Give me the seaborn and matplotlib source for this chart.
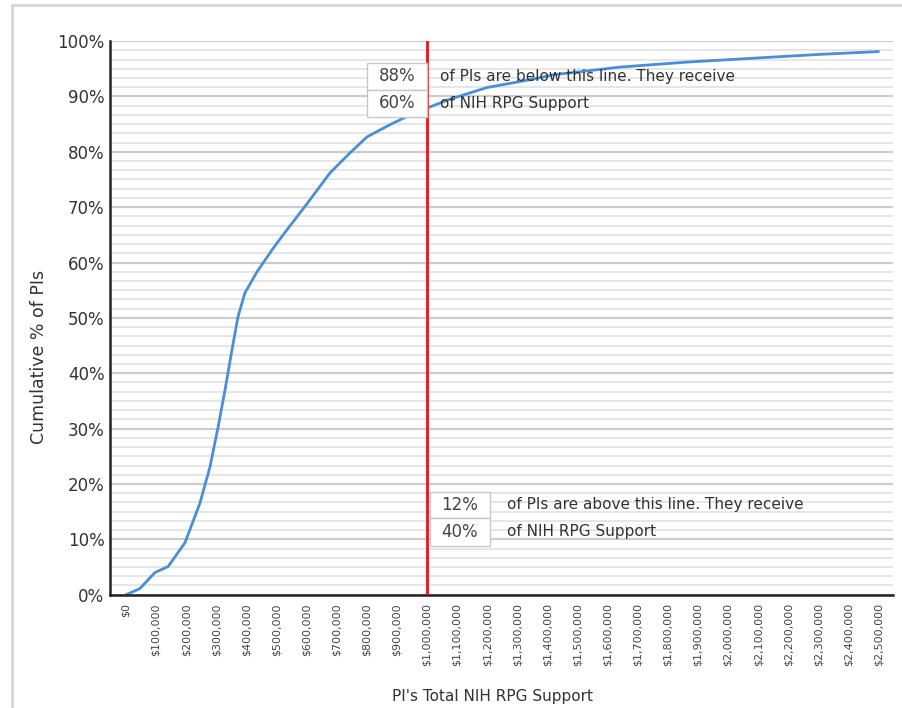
import numpy as np
import pandas as pd
import matplotlib
matplotlib.use("Agg")
import matplotlib.pyplot as plt
import matplotlib.ticker as mticker
from matplotlib.patches import Rectangle
import seaborn as sns

# support amount (dollars) and cumulative percent of PIs
support = [0, 46000, 96000, 140000, 196000, 246000, 279000, 306000, 329000,
           352000, 372000, 395000, 435000, 488000, 522000, 601000, 678000,
           744000, 801000, 877000, 934000, 1000000, 1076000, 1199000, 1350000,
           1419000, 1641000, 1864000, 2083000, 2306000, 2500000]
cum_pct = [0, 1.1, 4.0, 5.1, 9.4, 16.6, 23.1, 30.3, 37.0, 44.2, 50.2, 54.5,
           58.3, 62.5, 65.0, 70.6, 76.2, 79.8, 82.7, 84.9, 86.4, 87.9, 89.5,
           91.6, 93.1, 93.9, 95.3, 96.2, 96.9, 97.6, 98.1]

cutoff = 1000000
below_pct = ["88%", "60%"]
below_text = ["of PIs are below this line. They receive", "of NIH RPG Support"]
above_pct = ["12%", "40%"]
above_text = ["of PIs are above this line. They receive", "of NIH RPG Support"]

df = pd.DataFrame({"support": support, "pct": cum_pct})

sns.set_style("white")
plt.rcParams["font.family"] = ["DejaVu Sans"]

fig = plt.figure(figsize=(9.02, 7.08), dpi=100)
ax = fig.add_axes([0.122, 0.160, 0.868, 0.782])

# faint frame around the figure
fig.patches.append(Rectangle((12 / 902, -0.1), 1.2, 1.1 - 5 / 708,
                             transform=fig.transFigure, fill=False,
                             edgecolor="#d6d6d6", linewidth=2))

sns.lineplot(data=df, x="support", y="pct", ax=ax, color="#4a8fd6", linewidth=2)

ax.axvline(cutoff, ymin=0, ymax=1, color="#e8141c", linewidth=2, zorder=4)

ax.set_xlim(-53000, 2548000)
ax.set_ylim(0, 100)

ax.xaxis.set_major_locator(mticker.MultipleLocator(100000))
ax.xaxis.set_major_formatter(mticker.FuncFormatter(lambda v, p: "${:,.0f}".format(v)))
ax.yaxis.set_major_locator(mticker.MultipleLocator(10))
ax.yaxis.set_minor_locator(mticker.AutoMinorLocator(6))
ax.yaxis.set_major_formatter(mticker.FuncFormatter(lambda v, p: "{:.0f}%".format(v)))

ax.grid(axis="y", which="major", color="#cccccc", linewidth=1.6)
ax.grid(axis="y", which="minor", color="#e2e2e2", linewidth=1.2)
ax.grid(axis="x", visible=False)
ax.set_axisbelow(True)

for s in ["top", "right"]:
    ax.spines[s].set_visible(False)
for s in ["left", "bottom"]:
    ax.spines[s].set_color("#222222")
    ax.spines[s].set_linewidth(1.8)

ax.tick_params(axis="x", length=0, pad=6, labelsize=8, labelcolor="#444444", rotation=90)
ax.tick_params(axis="y", which="both", length=0, pad=4, labelsize=12, labelcolor="#333333")
for lab in ax.get_xticklabels():
    lab.set_verticalalignment("top")

ax.set_xlabel("PI's Total NIH RPG Support", fontsize=11, color="#333333")
ax.set_ylabel("Cumulative % of PIs", fontsize=12.5, color="#333333")
ax.xaxis.set_label_coords(0.489, -0.171)
ax.yaxis.set_label_coords(-0.079, 0.43)

# annotation boxes
def box_pair(x0, x1, ys, labels, tx, texts):
    for i in range(2):
        ax.add_patch(Rectangle((x0, ys[i + 1]), x1 - x0, ys[i] - ys[i + 1],
                               facecolor="white", edgecolor="#c8c8c8",
                               linewidth=1, zorder=5))
        ax.text((x0 + x1) / 2, (ys[i] + ys[i + 1]) / 2, labels[i], ha="center",
                va="center", fontsize=12, color="#444444", zorder=6)
        ax.text(tx, (ys[i] + ys[i + 1]) / 2, texts[i], ha="left", va="center",
                fontsize=11, color="#333333", zorder=3)

box_pair(800000, 1000000, [96.0, 91.2, 86.3], below_pct, 1043000, below_text)
box_pair(1010000, 1209000, [18.6, 13.9, 8.8], above_pct, 1266000, above_text)

fig.savefig("out.png", dpi=100)
